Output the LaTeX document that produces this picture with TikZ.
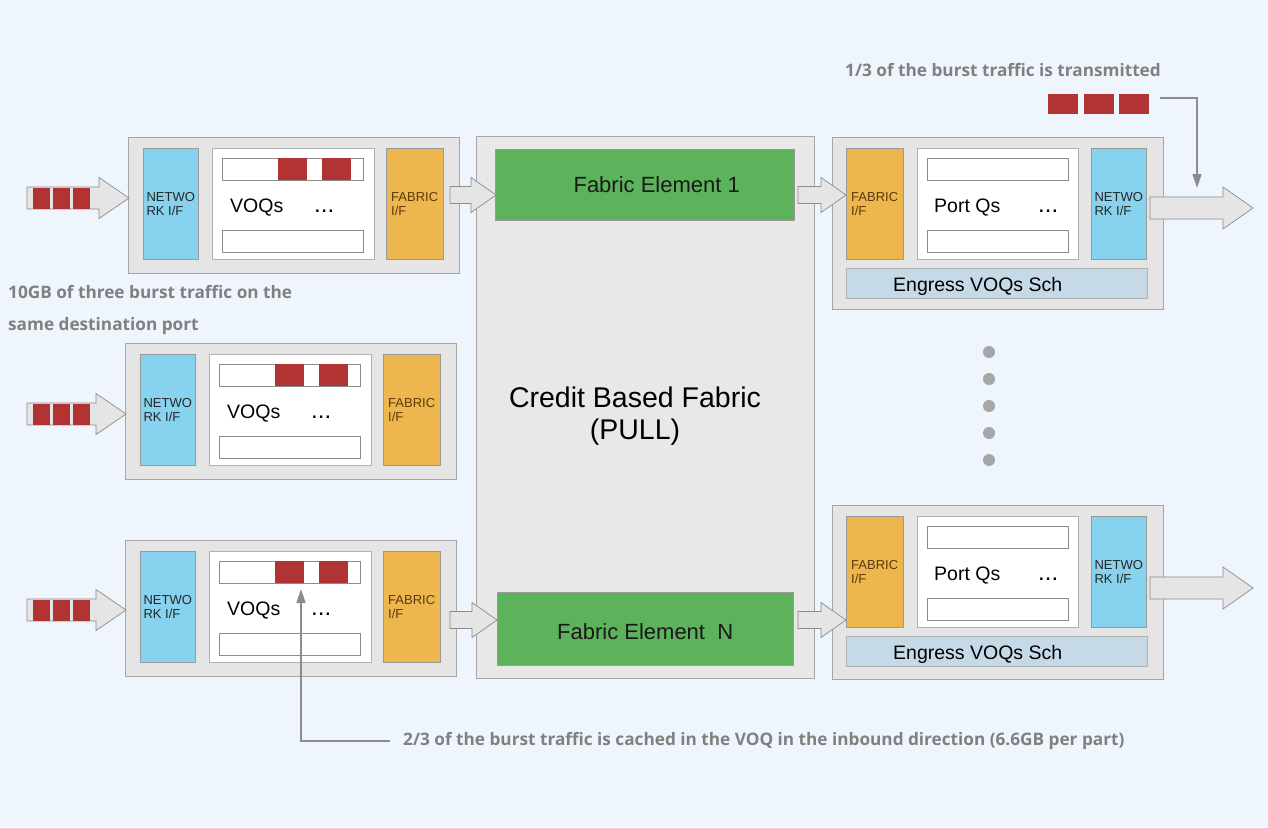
\documentclass[tikz,border=0pt]{standalone}
\usepackage{fontspec}
\setmainfont{Liberation Sans}
\newfontfamily\notefont{Open Sans}
\usetikzlibrary{arrows.meta,positioning,calc}
\definecolor{bgblue}{HTML}{EEF5FC}
\definecolor{netblue}{HTML}{87D2EF}
\definecolor{fabor}{HTML}{EDB64E}
\definecolor{fegreen}{HTML}{5DB35B}
\definecolor{schblue}{HTML}{C5DAE6}
\definecolor{pktred}{HTML}{B23333}
\definecolor{notegrey}{HTML}{808080}
\definecolor{fabtext}{HTML}{5C3A0A}

\begin{document}
\begin{tikzpicture}[x=1pt, y=-1pt,
  card/.style={draw=black!35, fill=black!10, anchor=north west, minimum width=331pt, minimum height=#1, inner sep=0pt},
  nif/.style={draw=black!40, fill=netblue, anchor=north west, minimum width=55pt, minimum height=111pt, inner sep=0pt, align=left, font=\fontsize{13}{14}\selectfont, text=black!85},
  fif/.style={nif, fill=fabor, minimum width=57pt, text=fabtext},
  qbox/.style={draw=black!30, fill=white, anchor=north west, minimum width=162pt, minimum height=111pt, inner sep=0pt},
  qbar/.style={draw=black!45, fill=white, anchor=north west, minimum width=141pt, minimum height=22pt, inner sep=0pt},
  qpkt/.style={fill=pktred, anchor=north west, minimum width=29pt, minimum height=22pt, inner sep=0pt},
  pkt/.style={fill=pktred, minimum width=17pt, minimum height=21pt, inner sep=0pt},
  qlbl/.style={anchor=base west, font=\fontsize{19.5}{20}\selectfont, inner sep=0pt},
  qdots/.style={qlbl, font=\fontsize{24}{24}\selectfont},
  sch/.style={draw=black!30, fill=schblue, anchor=north west, minimum width=301pt, minimum height=30pt, inner sep=0pt},
  fe/.style={draw=black!40, fill=fegreen, anchor=north west, inner sep=0pt},
  felbl/.style={font=\fontsize{22}{24}\selectfont, text=black!90, inner sep=0pt},
  note/.style={font=\notefont\bfseries\fontsize{17.2}{32}\selectfont, text=notegrey, align=left, inner sep=0pt},
  ann/.style={draw=black!45, line width=1.6pt, -{Triangle[length=14pt,width=9pt]}},
  dotc/.style={circle, fill=black!35, minimum size=12pt, inner sep=0pt},
  blk/.style n args={3}{draw=black!45, fill=black!10, line width=0.7pt,
    to path={let \p1=(\tikztostart), \p2=(\tikztotarget) in
      (\x1,\y1+#1) -- (\x2-#3,\y1+#1) -- (\x2-#3,\y1+#2) -- (\x2,\y1)
      -- (\x2-#3,\y1-#2) -- (\x2-#3,\y1-#1) -- (\x1,\y1-#1) -- cycle}}
]
\fill[bgblue] (0,0) rectangle (1268,827);
\useasboundingbox (0,0) rectangle (1268,827);

% Credit based fabric
\node[draw=black!35, fill=black!9, anchor=north west, minimum width=338pt, minimum height=542pt] (cbf) at (476,136) {};
\node[font=\fontsize{28.5}{32}\selectfont, align=center, inner sep=0pt] (cbft) at (635,416) {Credit Based Fabric\\(PULL)};
\node[fe, minimum width=299pt, minimum height=71pt] (fe1) at (495,149) {};
\node[felbl] (fe1t) at ([xshift=12pt]fe1.center) {Fabric Element 1};
\node[fe, minimum width=296pt, minimum height=73pt] (feN) at (497,592) {};
\node[felbl] (feNt) at ([yshift=-3pt]feN.center) {Fabric Element\ \ N};

% Ingress line cards
\foreach \i/\X/\Y/\ay in {1/128/137/61, 2/125/343/71, 3/125/540/70} {
  \node[card=136pt] (ing\i) at (\X,\Y) {};
  \node[nif] (inif\i) at (\X+15,\Y+11) {NETWO\\RK I/F};
  \node[qbox] (voq\i) at (\X+84,\Y+11) {};
  \node[fif] (ifif\i) at (\X+258,\Y+11) {FABRIC\\I/F};
  \node[qbar] (vtop\i) at (\X+94,\Y+21) {};
  \node[qbar] (vbot\i) at (\X+94,\Y+93) {};
  \node[qpkt] (vpa\i) at (\X+150,\Y+21) {};
  \node[qpkt] (vpb\i) at (\X+194,\Y+21) {};
  \node[qlbl] (vlbl\i) at (\X+102,\Y+75) {VOQs};
  \node[qdots] (vdots\i) at (\X+186,\Y+75) {...};
  \coordinate (src\i) at (27,\Y+\ay);
  \coordinate (dst\i) at (\X+1,\Y+\ay);
  \draw[blk={11pt}{20.5pt}{30pt}] (src\i) to (dst\i);
  \foreach \k in {0,1,2}
    \node[pkt, anchor=west] (inpkt\i-\k) at (33+20*\k,\Y+\ay) {};
}

% Egress line cards
\foreach \i/\Y/\H/\ai/\ao in {1/137/172/58/71, 2/505/174/115/83} {
  \node[card=\H] (eg\i) at (832,\Y) {};
  \node[fif] (efif\i) at (846,\Y+11) {FABRIC\\I/F};
  \node[qbox, minimum width=161pt] (pq\i) at (917,\Y+11) {};
  \node[nif] (enif\i) at (1091,\Y+11) {NETWO\\RK I/F};
  \node[qbar] (ptop\i) at (927,\Y+21) {};
  \node[qbar] (pbot\i) at (927,\Y+93) {};
  \node[qlbl] (plbl\i) at (934,\Y+75) {Port Qs};
  \node[qdots] (pdots\i) at (1038,\Y+75) {...};
  \node[sch] (sch\i) at (846,\Y+131) {};
  \node[font=\fontsize{19.5}{20}\selectfont, inner sep=0pt] (schl\i) at ([xshift=-19pt,yshift=-3pt]sch\i.center) {Engress VOQs Sch};
  \coordinate (esrc\i) at (798,\Y+\ai);
  \coordinate (edst\i) at (846,\Y+\ai);
  \draw[blk={8.5pt}{17.5pt}{25pt}] (esrc\i) to (edst\i);
  \coordinate (eout\i) at (1253,\Y+\ao);
  \coordinate (ebeg\i) at (1150,\Y+\ao);
  \draw[blk={11pt}{21pt}{30pt}] (ebeg\i) to (eout\i);
}

% Ingress to fabric
\coordinate (fsrc1) at (450,195);
\coordinate (fdst1) at (496,195);
\coordinate (fsrc3) at (450,620);
\coordinate (fdst3) at (497,620);
\draw[blk={8.5pt}{17.5pt}{25pt}] (fsrc1) to (fdst1);
\draw[blk={8.5pt}{17.5pt}{25pt}] (fsrc3) to (fdst3);

% Dots between egress cards
\foreach \k in {0,...,4}
  \node[dotc] (dot\k) at (989,352+27*\k) {};

% Notes
\node[note, anchor=west] (sent) at (845,70) {1/3 of the burst traffic is transmitted};
\foreach \k in {0,1,2}
  \node[pkt, minimum width=30pt, minimum height=20pt, anchor=north west] (outpkt\k) at (1048+35.5*\k,94) {};
\coordinate (sentbeg) at (1160,98);
\coordinate (sentend) at (1197,188);
\draw[ann] (sentbeg) -| (sentend);

\node[note, anchor=west] (burst) at (8,310) {10GB of three burst traffic on the\\same destination port};

\node[note, anchor=west] (cached) at (403,741) {2/3 of the burst traffic is cached in the VOQ in the inbound direction (6.6GB per part)};
\coordinate (cachebeg) at (390,741);
\coordinate (cachetip) at (301,589);
\draw[ann] (cachebeg) -| (cachetip);

\end{tikzpicture}
\end{document}
